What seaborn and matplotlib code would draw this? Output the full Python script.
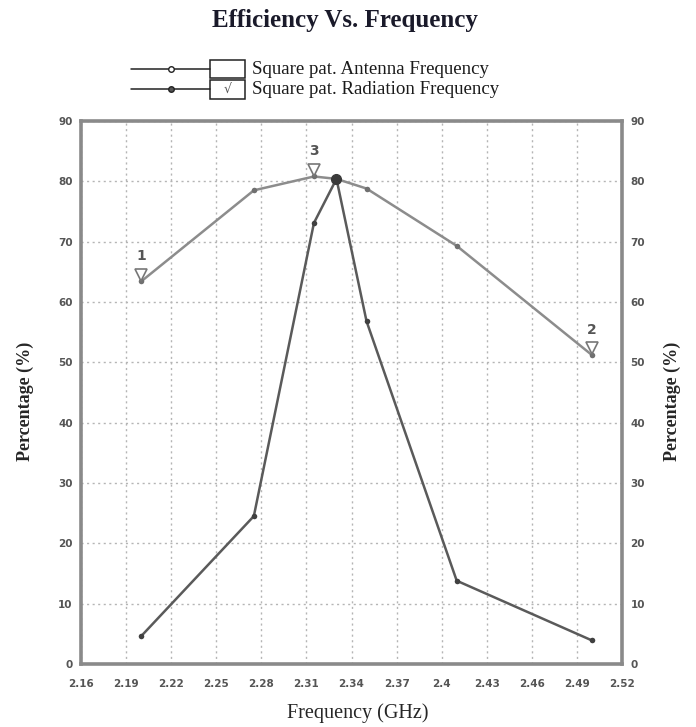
import pandas as pd
import matplotlib.pyplot as plt
import seaborn as sns
from matplotlib.lines import Line2D
from matplotlib.patches import Rectangle

# values
freq = [2.20, 2.275, 2.315, 2.33, 2.35, 2.41, 2.50]
antenna = [63.4, 78.5, 80.8, 80.4, 78.8, 69.3, 51.2]
radiation = [4.6, 24.5, 73.1, 80.4, 56.8, 13.8, 3.9]
marker_freq = [2.20, 2.50, 2.315]
marker_val = [63.4, 51.2, 80.8]
marker_num = ['1', '2', '3']
x_ticks = [2.16, 2.19, 2.22, 2.25, 2.28, 2.31, 2.34, 2.37, 2.4, 2.43, 2.46, 2.49, 2.52]
y_ticks = [0, 10, 20, 30, 40, 50, 60, 70, 80, 90]

sns.set_style('white')
plt.rcParams['font.family'] = ['Liberation Serif', 'DejaVu Serif']

df = pd.DataFrame({'freq': freq, 'antenna': antenna, 'radiation': radiation})

fig = plt.figure(figsize=(6.96, 7.27), dpi=100)
ax = fig.add_axes([0.1164, 0.0867, 0.7773, 0.7469])

sns.lineplot(data=df, x='freq', y='antenna', ax=ax, color='#8c8c8c', lw=1.8,
             marker='o', markersize=4, markeredgewidth=0, markerfacecolor='#707070')
sns.lineplot(data=df, x='freq', y='radiation', ax=ax, color='#5a5a5a', lw=1.8,
             marker='o', markersize=4, markeredgewidth=0, markerfacecolor='#404040')
# big dot where both curves meet at the top
ax.plot([freq[3]], [radiation[3]], 'o', color='#3a3a3a', markersize=7, zorder=5)

# numbered markers
for mx, my, mn in zip(marker_freq, marker_val, marker_num):
    ax.plot([mx], [my + 1.1], marker='v', markersize=8, markerfacecolor='white',
            markeredgecolor='#777777', markeredgewidth=1.2, zorder=6)
    ax.annotate(mn, xy=(mx, my), xytext=(0, 18), textcoords='offset points',
                ha='center', va='center', fontsize=10, fontweight='bold',
                color='#555555', family='DejaVu Sans')

ax.set_xlim(2.16, 2.52)
ax.set_ylim(0, 90)
ax.set_xticks(x_ticks)
ax.set_xticklabels([f'{t:g}' for t in x_ticks])
ax.set_yticks(y_ticks)
ax.grid(True, ls=(0, (1.5, 2.5)), color='#b5b5b5', lw=1)
ax.tick_params(length=0, labelsize=7.5, labelcolor='#555555', pad=6,
               labelright=True)
ax.tick_params(axis='x', pad=11)
for lab in ax.get_xticklabels() + ax.get_yticklabels():
    lab.set_family('DejaVu Sans')
    lab.set_fontweight('bold')
for sp in ax.spines.values():
    sp.set_color('#8a8a8a')
    sp.set_linewidth(2.6)

ax.set_xlabel('')
ax.set_ylabel('')
fig.text(0.514, 0.019, 'Frequency (GHz)', fontsize=14.5, ha='center', va='center')
fig.text(0.036, 0.448, 'Percentage (%)', rotation=90, fontsize=13, fontweight='bold',
         ha='center', va='center')
fig.text(0.966, 0.448, 'Percentage (%)', rotation=90, fontsize=13, fontweight='bold',
         ha='center', va='center')

fig.text(0.496, 0.972, 'Efficiency Vs. Frequency', fontsize=18, fontweight='bold',
         ha='center', va='center', color='#1a1a2a')

# legend drawn by hand like the original
for yy, face, tick, text in [(0.905, 'white', '', 'Square pat. Antenna Frequency'),
                             (0.877, '#555555', '\u221a', 'Square pat. Radiation Frequency')]:
    fig.add_artist(Line2D([0.188, 0.302], [yy, yy], color='#222222', lw=1.1))
    fig.add_artist(Line2D([0.245], [yy], marker='o', markersize=4,
                          markerfacecolor=face, markeredgecolor='#222222', lw=0))
    fig.add_artist(Rectangle((0.302, yy - 0.0125), 0.050, 0.025, fill=True,
                             facecolor='white', edgecolor='#222222', lw=1.1))
    if tick:
        fig.text(0.327, yy, tick, fontsize=9, ha='center', va='center', color='#555555',
                 family='DejaVu Sans')
    fig.text(0.362, yy, text, fontsize=13.6, ha='left', va='center', color='#1a1a1a')

fig.savefig('out.png', dpi=100)
